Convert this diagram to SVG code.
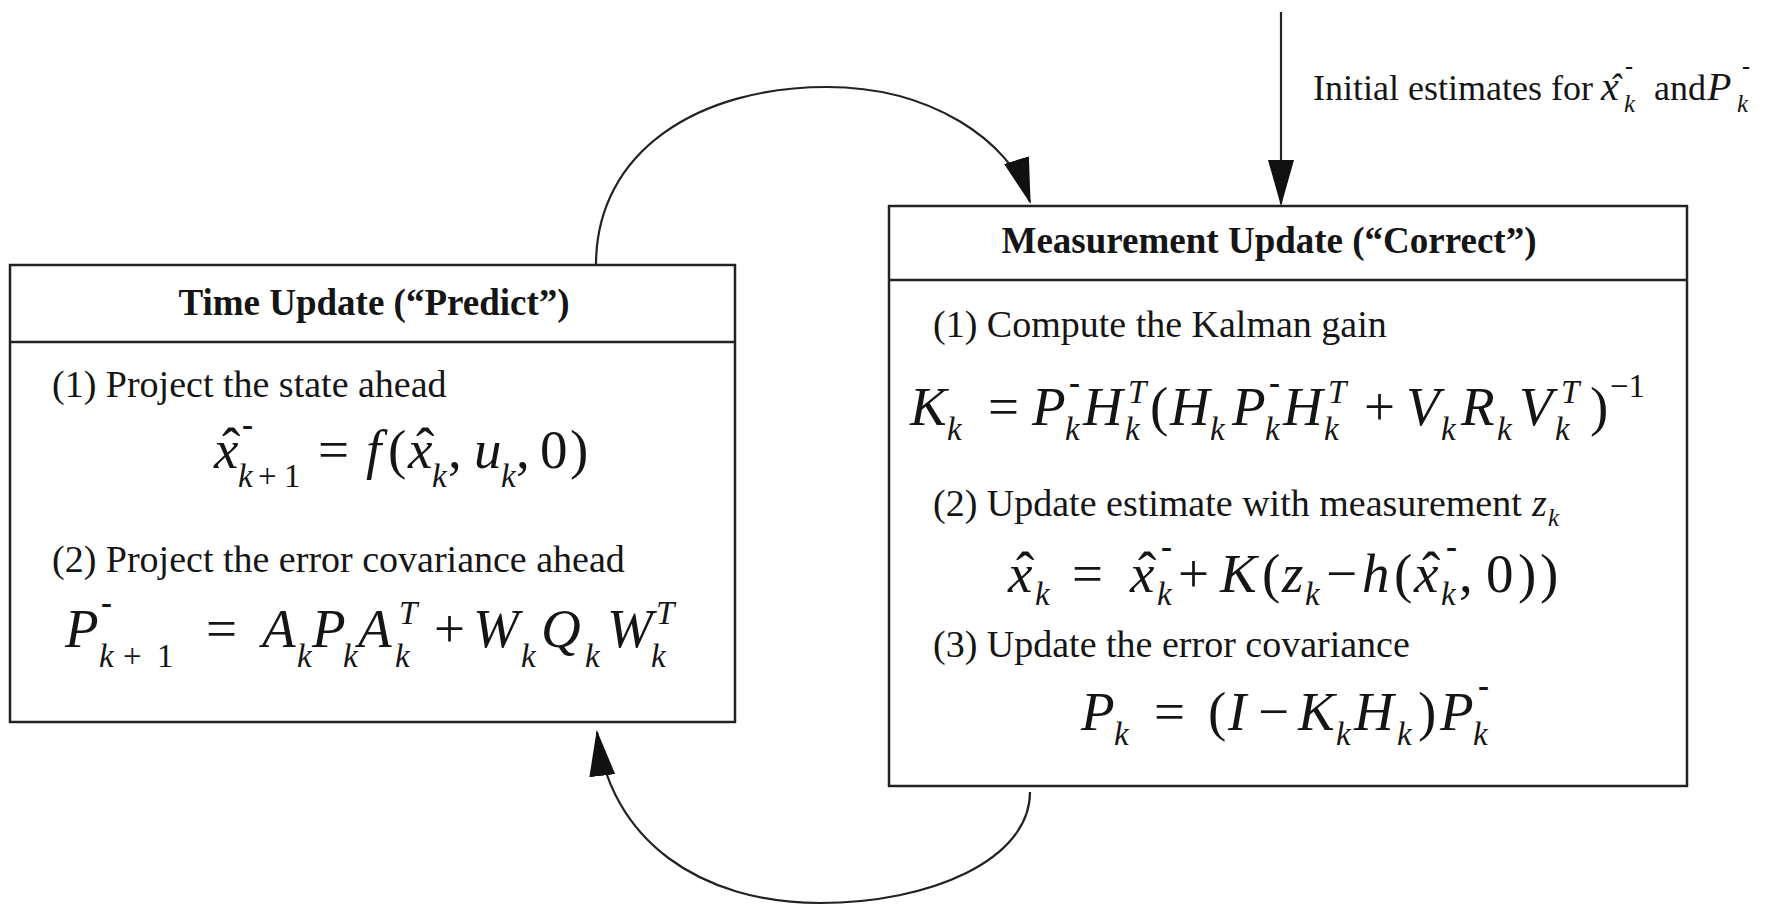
<svg xmlns="http://www.w3.org/2000/svg" width="1783" height="905" viewBox="0 0 1783 905">
<defs>
<marker id="ah" viewBox="0 0 46 26" refX="44" refY="13" markerWidth="46" markerHeight="26" markerUnits="userSpaceOnUse" orient="auto"><path d="M0,0 L46,13 L0,26 Z" fill="#111"/></marker>
<style>
text { font-family: "Liberation Serif", "Times New Roman", serif; fill: #151515; }
.box { fill: #fff; stroke: #222; stroke-width: 2.5; }
.div { stroke: #222; stroke-width: 2.5; }
.conn { fill: none; stroke: #222; stroke-width: 2.2; }
.title { font-size: 37px; font-weight: bold; text-anchor: middle; }
.body { font-size: 38px; }
.lab { font-size: 36px; }
.m { font-size: 55px; font-style: italic; }
.r { font-size: 55px; font-style: normal; }
.s { font-size: 33px; font-style: italic; }
.sr { font-size: 33px; font-style: normal; }
.mn { font-size: 33px; font-weight: bold; font-style: normal; }
.li { font-size: 40px; font-style: italic; }
.ls { font-size: 25px; font-style: italic; }
.lm { font-size: 24px; font-weight: bold; font-style: normal; }
</style>
</defs>
<rect width="1783" height="905" fill="#fff"/>

<g id="connectors">
<path class="conn" d="M1281,12 L1281,204" marker-end="url(#ah)"/>
<path class="conn" d="M596,265 C596,150 700,87 827,87 C930,87 1010,140 1030,202" marker-end="url(#ah)"/>
<path class="conn" d="M1030,792 C1030,860 930,903 820,903 C700,903 610,840 597,732" marker-end="url(#ah)"/>
</g>

<g id="initial-label">
<text class="lab" x="1313" y="100">Initial estimates for</text>
<text class="li"><tspan x="1601" y="100">x</tspan><tspan class="lab" x="1609" y="99">ˆ</tspan><tspan class="lm" x="1625" y="74">-</tspan><tspan class="ls" x="1624" y="112">k</tspan></text>
<text class="lab" x="1654" y="100">and</text>
<text class="li"><tspan x="1707" y="100">P</tspan><tspan class="lm" x="1742" y="74">-</tspan><tspan class="ls" x="1737" y="112">k</tspan></text>
</g>

<g id="time-update">
<rect class="box" x="10" y="265" width="725" height="457"/>
<line class="div" x1="10" y1="342" x2="735" y2="342"/>
<text class="title" x="374" y="315">Time Update (“Predict”)</text>
<text class="body" x="52" y="397">(1) Project the state ahead</text>
<text class="m"><tspan x="214" y="468">x</tspan><tspan class="r" x="222" y="466">ˆ</tspan><tspan class="mn" x="242" y="436">-</tspan><tspan class="s" x="238" y="487">k</tspan><tspan class="sr" x="258" y="487">+</tspan><tspan class="sr" x="284" y="487">1</tspan><tspan class="r" x="318" y="468">=</tspan><tspan x="366" y="468">f</tspan><tspan class="r" x="388" y="468">(</tspan><tspan x="408" y="468">x</tspan><tspan class="r" x="416" y="466">ˆ</tspan><tspan class="s" x="432" y="487">k</tspan><tspan class="r" x="448" y="468">,</tspan><tspan x="474" y="468">u</tspan><tspan class="s" x="501" y="487">k</tspan><tspan class="r" x="516" y="468">,</tspan><tspan class="r" x="540" y="468">0</tspan><tspan class="r" x="570" y="468">)</tspan></text>
<text class="body" font-size="37" x="52" y="572">(2) Project the error covariance ahead</text>
<text class="m"><tspan x="65" y="647">P</tspan><tspan class="mn" x="101" y="614">-</tspan><tspan class="s" x="99" y="667">k</tspan><tspan class="sr" x="123" y="667">+</tspan><tspan class="sr" x="157" y="667">1</tspan><tspan class="r" x="206" y="647">=</tspan><tspan x="262" y="647">A</tspan><tspan class="s" x="297" y="667">k</tspan><tspan x="312" y="647">P</tspan><tspan class="s" x="343" y="667">k</tspan><tspan x="358" y="647">A</tspan><tspan class="s" x="399" y="624">T</tspan><tspan class="s" x="395" y="667">k</tspan><tspan class="r" x="434" y="647">+</tspan><tspan x="473" y="647">W</tspan><tspan class="s" x="521" y="667">k</tspan><tspan x="541" y="647">Q</tspan><tspan class="s" x="585" y="667">k</tspan><tspan x="607" y="647">W</tspan><tspan class="s" x="656" y="624">T</tspan><tspan class="s" x="651" y="667">k</tspan></text>
</g>

<g id="measurement-update">
<rect class="box" x="889" y="206" width="798" height="580"/>
<line class="div" x1="889" y1="280" x2="1687" y2="280"/>
<text class="title" x="1269" y="253">Measurement Update (“Correct”)</text>
<text class="body" x="933" y="337">(1) Compute the Kalman gain</text>
<text class="m"><tspan x="910" y="425">K</tspan><tspan class="s" x="947" y="440">k</tspan><tspan class="r" x="988" y="425">=</tspan><tspan x="1032" y="425">P</tspan><tspan class="mn" x="1069" y="394">-</tspan><tspan class="s" x="1065" y="440">k</tspan><tspan x="1083" y="425">H</tspan><tspan class="s" x="1128" y="403">T</tspan><tspan class="s" x="1125" y="440">k</tspan><tspan class="r" x="1150" y="425">(</tspan><tspan x="1170" y="425">H</tspan><tspan class="s" x="1210" y="440">k</tspan><tspan x="1232" y="425">P</tspan><tspan class="mn" x="1269" y="394">-</tspan><tspan class="s" x="1265" y="440">k</tspan><tspan x="1283" y="425">H</tspan><tspan class="s" x="1328" y="403">T</tspan><tspan class="s" x="1324" y="440">k</tspan><tspan class="r" x="1364" y="425">+</tspan><tspan x="1406" y="425">V</tspan><tspan class="s" x="1441" y="440">k</tspan><tspan x="1461" y="425">R</tspan><tspan class="s" x="1497" y="440">k</tspan><tspan x="1519" y="425">V</tspan><tspan class="s" x="1561" y="403">T</tspan><tspan class="s" x="1555" y="440">k</tspan><tspan class="r" x="1590" y="425">)</tspan><tspan class="sr" font-size="38" x="1610" y="397">−1</tspan></text>
<text class="body" x="933" y="516">(2) Update estimate with measurement <tspan font-style="italic" x="1532">z</tspan><tspan class="ls" x="1548" y="526">k</tspan></text>
<text class="m"><tspan x="1008" y="592">x</tspan><tspan class="r" x="1016" y="590">ˆ</tspan><tspan class="s" x="1035" y="605">k</tspan><tspan class="r" x="1072" y="592">=</tspan><tspan x="1130" y="592">x</tspan><tspan class="r" x="1138" y="590">ˆ</tspan><tspan class="mn" x="1161" y="558">-</tspan><tspan class="s" x="1157" y="605">k</tspan><tspan class="r" x="1178" y="592">+</tspan><tspan x="1220" y="592">K</tspan><tspan class="r" x="1262" y="592">(</tspan><tspan x="1282" y="592">z</tspan><tspan class="s" x="1305" y="605">k</tspan><tspan class="r" x="1326" y="592">−</tspan><tspan x="1362" y="592">h</tspan><tspan class="r" x="1394" y="592">(</tspan><tspan x="1414" y="592">x</tspan><tspan class="r" x="1422" y="590">ˆ</tspan><tspan class="mn" x="1446" y="558">-</tspan><tspan class="s" x="1441" y="605">k</tspan><tspan class="r" x="1459" y="592">,</tspan><tspan class="r" x="1486" y="592">0</tspan><tspan class="r" x="1518" y="592">)</tspan><tspan class="r" x="1540" y="592">)</tspan></text>
<text class="body" x="933" y="657">(3) Update the error covariance</text>
<text class="m"><tspan x="1081" y="730">P</tspan><tspan class="s" x="1114" y="745">k</tspan><tspan class="r" x="1154" y="730">=</tspan><tspan class="r" x="1208" y="730">(</tspan><tspan x="1228" y="730">I</tspan><tspan class="r" x="1258" y="730">−</tspan><tspan x="1298" y="730">K</tspan><tspan class="s" x="1336" y="745">k</tspan><tspan x="1354" y="730">H</tspan><tspan class="s" x="1397" y="745">k</tspan><tspan class="r" x="1418" y="730">)</tspan><tspan x="1440" y="730">P</tspan><tspan class="mn" x="1478" y="697">-</tspan><tspan class="s" x="1473" y="745">k</tspan></text>
</g>
</svg>
